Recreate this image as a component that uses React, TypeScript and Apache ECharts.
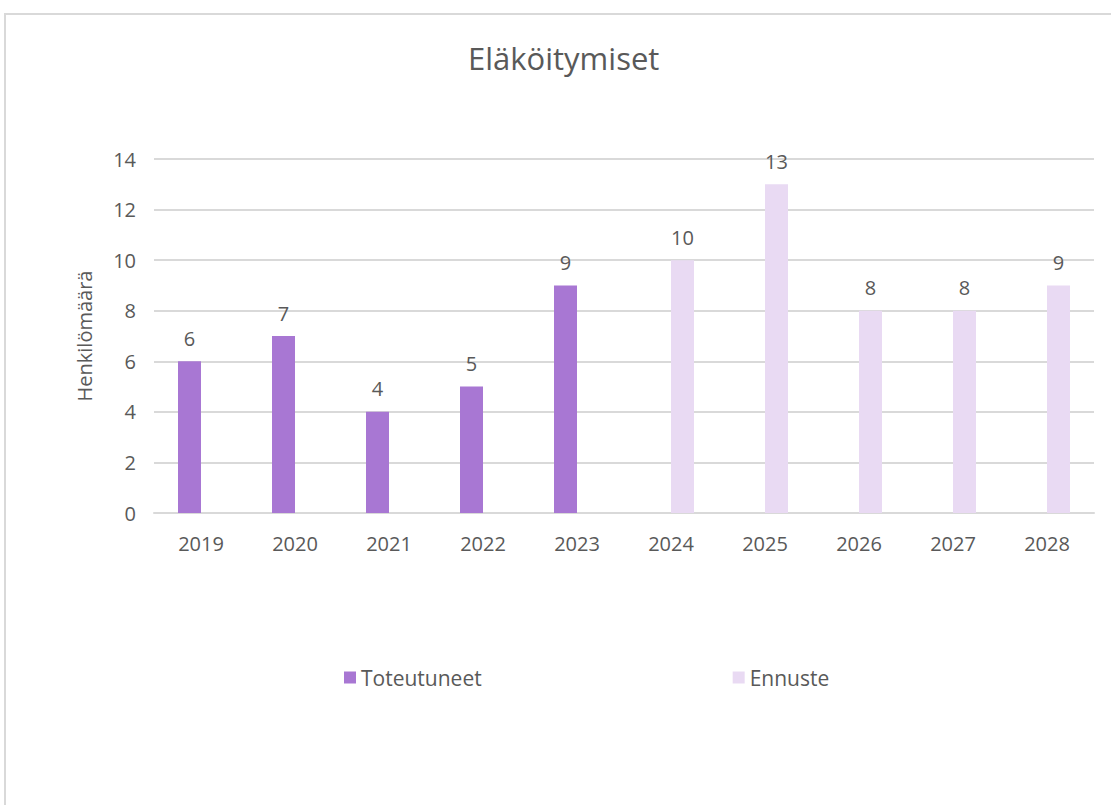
import React, { useEffect, useRef } from "react";
import * as echarts from "echarts";

const years = ["2019", "2020", "2021", "2022", "2023", "2024", "2025", "2026", "2027", "2028"];
const toteutuneet = [6, 7, 4, 5, 9, null, null, null, null, null];
const ennuste = [null, null, null, null, null, 10, 13, 8, 8, 9];
const seriesNames = ["Toteutuneet", "Ennuste"];
const titleText = "Eläköitymiset";
const yAxisName = "Henkilömäärä";

const TEXT = "#595959";
const GRID = "#D9D9D9";
const FONT = "'Open Sans', 'Noto Sans', sans-serif";

export default function App() {
  const ref = useRef<HTMLDivElement>(null);
  useEffect(() => {
    document.body.style.margin = "0";
    const chart = echarts.init(ref.current!, null, { renderer: "svg" });
    const labelCfg = {
      show: true,
      position: "top",
      distance: 13,
      color: TEXT,
      fontSize: 20,
      fontFamily: FONT,
    };
    chart.setOption({
      animation: false,
      backgroundColor: "#ffffff",
      textStyle: { fontFamily: FONT, color: TEXT },
      title: {
        text: titleText,
        left: 463,
        top: 37,
        textStyle: { color: TEXT, fontSize: 31, fontWeight: "normal", fontFamily: FONT },
      },
      graphic: [
        {
          type: "rect",
          shape: { x: 5, y: 14, width: 1300, height: 1000 },
          style: { fill: "none", stroke: GRID, lineWidth: 2 },
          silent: true,
        },
      ],
      legend: {
        left: 339,
        top: 662,
        itemWidth: 12,
        itemHeight: 12,
        itemGap: 251,
        icon: "rect",
        textStyle: { color: TEXT, fontSize: 21, fontFamily: FONT },
        data: seriesNames,
      },
      grid: { left: 154, right: 17, top: 159, bottom: 292, containLabel: false },
      xAxis: {
        type: "category",
        data: years,
        axisLine: { lineStyle: { color: GRID, width: 2 } },
        axisTick: { show: false },
        axisLabel: { color: TEXT, fontSize: 20, fontFamily: FONT, margin: 20 },
      },
      yAxis: {
        type: "value",
        min: 0,
        max: 14,
        interval: 2,
        name: yAxisName,
        nameLocation: "middle",
        nameGap: 60,
        nameTextStyle: { color: TEXT, fontSize: 20, fontFamily: FONT },
        axisLine: { show: false },
        axisTick: { show: false },
        axisLabel: { color: TEXT, fontSize: 20, fontFamily: FONT, margin: 18 },
        splitLine: { lineStyle: { color: GRID, width: 2 } },
      },
      series: [
        {
          name: seriesNames[0],
          type: "bar",
          data: toteutuneet,
          barWidth: 23,
          barGap: "0%",
          itemStyle: { color: "#A877D3" },
          label: labelCfg,
        },
        {
          name: seriesNames[1],
          type: "bar",
          data: ennuste,
          barWidth: 23,
          barGap: "0%",
          itemStyle: { color: "#E9DAF3" },
          label: labelCfg,
        },
      ],
    });
    return () => chart.dispose();
  }, []);
  return <div ref={ref} style={{ width: 1111, height: 805 }} />;
}
